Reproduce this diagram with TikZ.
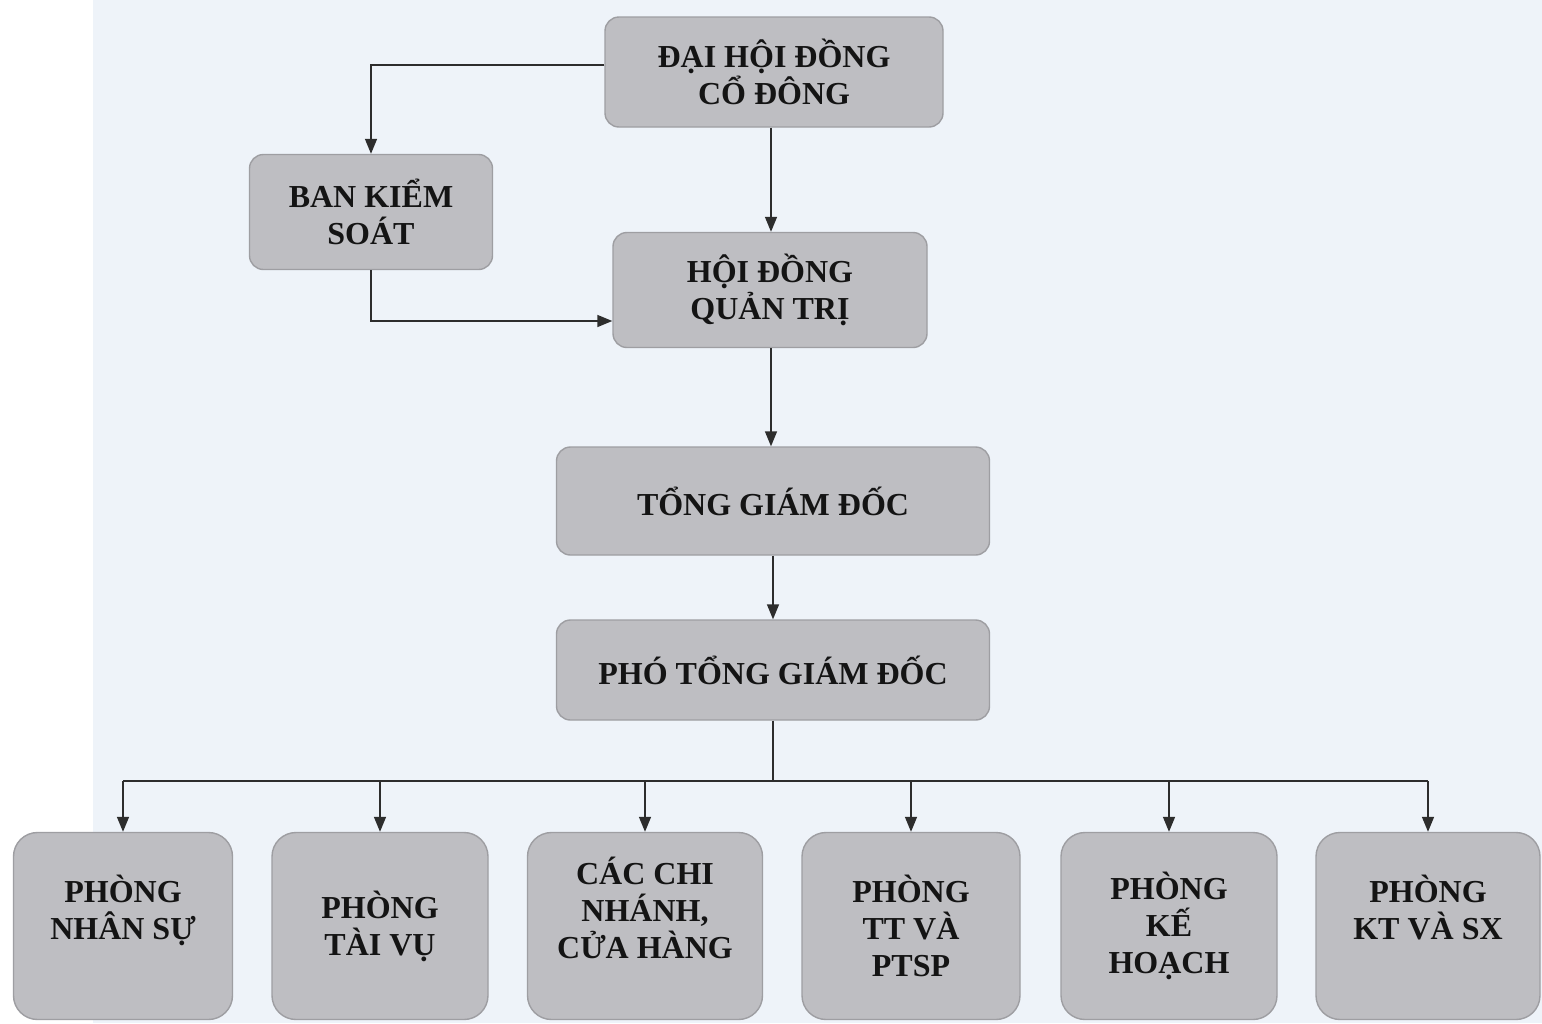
\documentclass[tikz,border=0pt]{standalone}
\usepackage{fontspec}
\setmainfont{Liberation Serif}
\usetikzlibrary{arrows.meta}
\definecolor{paper}{RGB}{238,243,249}
\definecolor{boxgray}{RGB}{190,190,194}
\definecolor{boxedge}{RGB}{158,158,162}
\definecolor{linegray}{RGB}{45,45,45}

\begin{document}
\begin{tikzpicture}[
    x=1pt, y=-1pt,
    box/.style={rectangle, draw=boxedge, line width=1.4pt, fill=boxgray, text=black!92, align=center, rounded corners=14pt, inner sep=0pt, font=\bfseries\fontsize{32}{37}\selectfont},
    dept/.style={box, minimum height=187pt, rounded corners=24pt},
    link/.style={draw=linegray, line width=1.5pt},
    arr/.style={link, -{Triangle[length=15pt,width=12pt]}}
]
\useasboundingbox (0,0) rectangle (1542,1023);
\fill[white] (0,0) rectangle (93,1023);
\fill[paper] (93,0) rectangle (1542,1023);

% Top level
\node[box, minimum width=338pt, minimum height=110pt] (dhd) at (774,72) {ĐẠI HỘI ĐỒNG\\CỔ ĐÔNG};

% Supervisory board
\node[box, minimum width=243pt, minimum height=115pt] (bks) at (371,212) {BAN KIỂM\\SOÁT};

% Board of directors
\node[box, minimum width=314pt, minimum height=115pt] (hdq) at (770,290) {HỘI ĐỒNG\\QUẢN TRỊ};

% General director
\node[box, minimum width=433pt, minimum height=108pt] (tgd) at (773,501) {TỔNG GIÁM ĐỐC};

% Deputy general director
\node[box, minimum width=433pt, minimum height=100pt] (ptgd) at (773,670) {PHÓ TỔNG GIÁM ĐỐC};

% Departments (an empty last line lifts the text a little)
\node[dept, minimum width=219pt] (ns) at (123,926) {PHÒNG\\NHÂN SỰ\\\mbox{}};
\node[dept, minimum width=216pt] (tv) at (380,926) {PHÒNG\\TÀI VỤ};
\node[dept, minimum width=235pt] (cn) at (645,926) {CÁC CHI\\NHÁNH,\\CỬA HÀNG\\\mbox{}};
\node[dept, minimum width=218pt] (tt) at (911,926) {PHÒNG\\TT VÀ\\PTSP};
\node[dept, minimum width=216pt] (kh) at (1169,926) {PHÒNG\\KẾ\\HOẠCH};
\node[dept, minimum width=224pt] (kt) at (1428,926) {PHÒNG\\KT VÀ SX\\\mbox{}};

% Connectors
\draw[arr] ([yshift=7pt]dhd.west) -| (bks.north);
\draw[arr] ([xshift=-3pt]dhd.south) -- ([xshift=-3pt]dhd.south |- hdq.north);
\draw[arr] (bks.south) |- ([yshift=-31pt]hdq.west);
\draw[arr] ([xshift=1pt]hdq.south) -- ([xshift=1pt]hdq.south |- tgd.north);
\draw[arr] (tgd.south) -- (ptgd.north);

\coordinate (bus) at (773,781);
\draw[link] (ptgd.south) -- (bus);
\draw[link] (ns.north |- bus) -- (kt.north |- bus);
\foreach \d in {ns,tv,cn,tt,kh,kt}
    \draw[arr] (\d.north |- bus) -- (\d.north);

\end{tikzpicture}
\end{document}
